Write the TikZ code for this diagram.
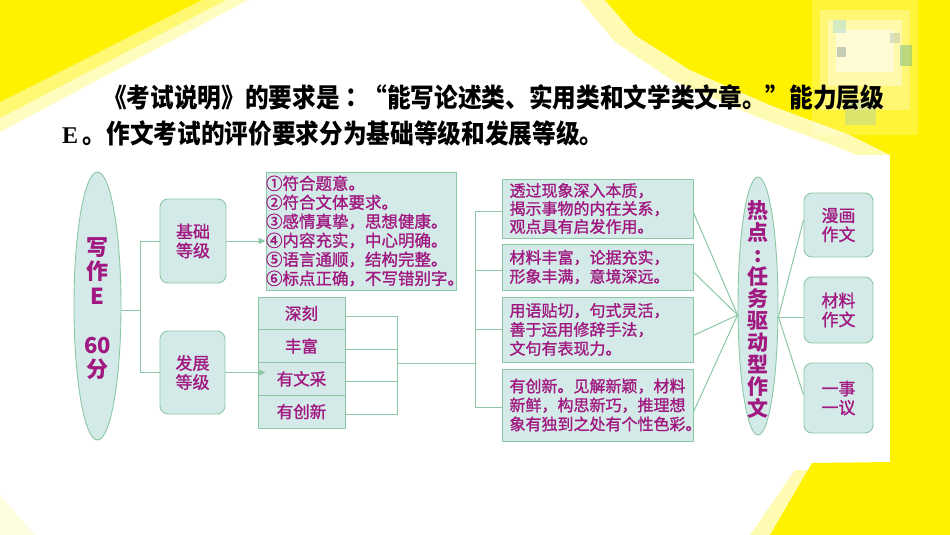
\documentclass[tikz,border=0pt]{standalone}
\usepackage{fontspec}
\usetikzlibrary{shapes.geometric,arrows.meta,calc}
\newfontfamily\cjk[FakeBold=1.2]{Noto Sans CJK SC}
\newfontfamily\cjkb{Noto Sans CJK SC}
\newfontfamily\cjkt[FakeStretch=0.9]{Noto Sans CJK SC}
\newfontfamily\cjktc[FakeStretch=0.9]{Noto Sans CJK TC}
\newfontfamily\serifE{Liberation Serif}
\definecolor{mag}{RGB}{160,24,128}
\definecolor{lfill}{RGB}{212,234,233}
\definecolor{lgreen}{RGB}{140,200,165}
\definecolor{ylw}{RGB}{255,242,0}
\definecolor{pa}{RGB}{170,220,215}
\definecolor{pb}{RGB}{140,160,150}
\definecolor{pc}{RGB}{100,180,140}
\definecolor{pd}{RGB}{160,170,165}
\definecolor{pe}{RGB}{160,200,205}
\tikzset{
  box/.style={draw=lgreen, fill=lfill, line width=0.9pt, inner sep=0pt, text=mag},
  rbox/.style={box, rounded corners=8pt},
  ell/.style={box, ellipse},
  conn/.style={draw=lgreen, line width=1pt},
  arr/.style={conn, -{Triangle[length=7pt,width=6pt]}},
  smalltxt/.style={font=\cjk\fontsize{17}{19}\selectfont, align=center},
  listtxt/.style={font=\cjk\fontsize{16}{19}\selectfont, align=left},
  bigtxt/.style={text=mag, inner sep=0pt, align=center},
  titletxt/.style={anchor=base west, inner sep=0pt, text=black, font=\cjkt\bfseries\fontsize{26.3}{26.3}\selectfont}
}
\begin{document}
\begin{tikzpicture}[x=1pt,y=-1pt]
\useasboundingbox (0,0) rectangle (950,535);
\fill[white] (0,0) rectangle (950,535);
% background yellow
\fill[ylw!25] (0,0) -- (248,0) -- (0,132) -- cycle;
\fill[ylw!55] (0,0) -- (226,0) -- (0,118) -- cycle;
\fill[ylw] (0,0) -- (202,0) -- (0,102) -- cycle;
\fill[ylw!30] (580,0) -- (950,0) -- (950,535) -- (750,535) -- (795,470) -- (880,470) -- (880,165) -- (840,148) -- (760,118) -- (675,82) -- (615,42) -- cycle;
\fill[ylw] (605,0) -- (950,0) -- (950,535) -- (770,535) -- (812,463) -- (890,462) -- (890,155) -- (850,135) -- (770,105) -- (690,70) -- (635,35) -- cycle;
\fill[ylw!12] (0,495) -- (0,535) -- (35,535) -- cycle;
% blurred picture in the corner
\fill[white, opacity=0.22] (812,0) rectangle (918,135);
\fill[white, opacity=0.3] (820,10) rectangle (910,110);
\fill[white, opacity=0.4] (828,20) rectangle (902,86);
\fill[white, opacity=0.5] (836,30) rectangle (894,72);
\fill[pa, opacity=0.5] (833,20) rectangle (846,33);
\fill[pb, opacity=0.5] (837,47) rectangle (846,57);
\fill[pc, opacity=0.45] (900,45) rectangle (912,66);
\fill[pd, opacity=0.35] (890,33) rectangle (900,43);
\fill[pe, opacity=0.35] (845,100) rectangle (876,125);
% panel
\fill[white] (53,155) rectangle (890,462);
% title
\node[titletxt] (t1) at (103,107) {《考试说明》的要求是{\cjktc ：}“能写论述类、实用类和文学类文章。”能力层级};
\node[titletxt] (t2) at (62,143.5) {{\serifE\bfseries\fontsize{24}{24}\selectfont E}\hspace{4.5pt}。作文考试的评价要求分为基础等级和发展等级。};
% left part
\node[ell, minimum width=47, minimum height=268,
  label={[bigtxt, font=\cjkb\bfseries\fontsize{22}{24.5}\selectfont, yshift=-2.5pt]center:{写\\作\\E\\[24.5pt]60\\分}}] (w) at (97.5,306) {};
\node[rbox, smalltxt, minimum width=66, minimum height=84] (jc) at (193,241) {基础\\等级};
\node[rbox, smalltxt, minimum width=65, minimum height=83] (fz) at (192.5,372.5) {发展\\等级};
\node[box, font=\cjk\fontsize{16.5}{19}\selectfont, align=left, text width=190pt, minimum height=118] (rq) at (361,231)
  {①符合题意。\\②符合文体要求。\\③感情真挚，思想健康。\\④内容充实，中心明确。\\⑤语言通顺，结构完整。\\⑥标点正确，不写错别字。};
\node[box, smalltxt, font=\cjk\fontsize{16.5}{19}\selectfont, minimum width=87, minimum height=32.75] (s1) at (301.5,313.4) {深刻};
\node[box, smalltxt, font=\cjk\fontsize{16.5}{19}\selectfont, minimum width=87, minimum height=32.75] (s2) at (301.5,346.1) {丰富};
\node[box, smalltxt, font=\cjk\fontsize{16.5}{19}\selectfont, minimum width=87, minimum height=32.75] (s3) at (301.5,378.9) {有文采};
\node[box, smalltxt, font=\cjk\fontsize{16.5}{19}\selectfont, minimum width=87, minimum height=32.75] (s4) at (301.5,411.6) {有创新};
% middle boxes
\node[box, listtxt, font=\cjk\fontsize{16}{18}\selectfont, text width=176pt, minimum width=191, minimum height=59] (ba) at (597.5,208.5) {透过现象深入本质，\\揭示事物的内在关系，\\观点具有启发作用。};
\node[box, listtxt, text width=176pt, minimum width=191, minimum height=46] (bb) at (597.5,267) {材料丰富，论据充实，\\形象丰满，意境深远。};
\node[box, listtxt, text width=176pt, minimum width=191, minimum height=65] (bc) at (597.5,329.5) {用语贴切，句式灵活，\\善于运用修辞手法，\\文句有表现力。};
\node[box, listtxt, text width=176pt, minimum width=191, minimum height=72] (bd) at (597.5,405) {有创新。见解新颖，材料\\新鲜，构思新巧，推理想\\象有独到之处有个性色彩。};
% right part
\node[ell, minimum width=40, minimum height=258,
  label={[bigtxt, font=\cjkb\bfseries\fontsize{21}{22}\selectfont, yshift=-3pt]center:{热\\点\\:\\任\\务\\驱\\动\\型\\作\\文}}] (hot) at (758,306) {};
\node[rbox, smalltxt, minimum width=69, minimum height=64] (mh) at (838.5,225) {漫画\\作文};
\node[rbox, smalltxt, minimum width=69, minimum height=66] (cl) at (838.5,310) {材料\\作文};
\node[rbox, smalltxt, minimum width=69, minimum height=70] (ys) at (838.5,398) {一事\\一议};
% connectors left
\coordinate (tr) at (140,310);
\draw[conn] (w.east |- tr) -- (tr);
\draw[conn] (tr |- jc.west) -- (tr |- fz.west);
\draw[conn] (tr |- jc.west) -- (jc.west);
\draw[conn] (tr |- fz.west) -- (fz.west);
\draw[arr] (jc.east) -- (rq.west |- jc.east);
\draw[arr] (fz.east) -- (rq.west |- fz.east);
% stack connectors
\coordinate (sj) at (397,363);
\coordinate (bj) at (475,363);
\foreach \s in {s1,s2,s3,s4} { \draw[conn] ($(\s.east)+(0,3)$) -- ($(sj |- \s.east)+(0,3)$); }
\draw[conn] ($(sj |- s1.east)+(0,3)$) -- ($(sj |- s4.east)+(0,3)$);
\draw[conn] (sj) -- (bj);
\draw[conn] ($(bj |- ba.west)+(0,3)$) -- ($(bj |- bd.west)+(0,2)$);
\draw[conn] ($(bj |- ba.west)+(0,3)$) -- ($(ba.west)+(0,3)$);
\draw[conn] ($(bj |- bb.west)+(0,3)$) -- ($(bb.west)+(0,3)$);
\draw[conn] (bj |- bc.west) -- (bc.west);
\draw[conn] ($(bj |- bd.west)+(0,2)$) -- ($(bd.west)+(0,2)$);
% to the hot ellipse
\coordinate (hl) at ($(hot.west)+(0,9)$);
\coordinate (hr) at ($(hot.east)+(0,11)$);
\foreach \b/\d in {ba/4,bb/5,bc/6,bd/7} { \draw[conn] ($(\b.east)+(0,\d)$) -- (hl); }
\foreach \b/\d in {mh/-5,cl/7,ys/-3} { \draw[conn] (hr) -- ($(\b.west)+(0,\d)$); }
\end{tikzpicture}
\end{document}
